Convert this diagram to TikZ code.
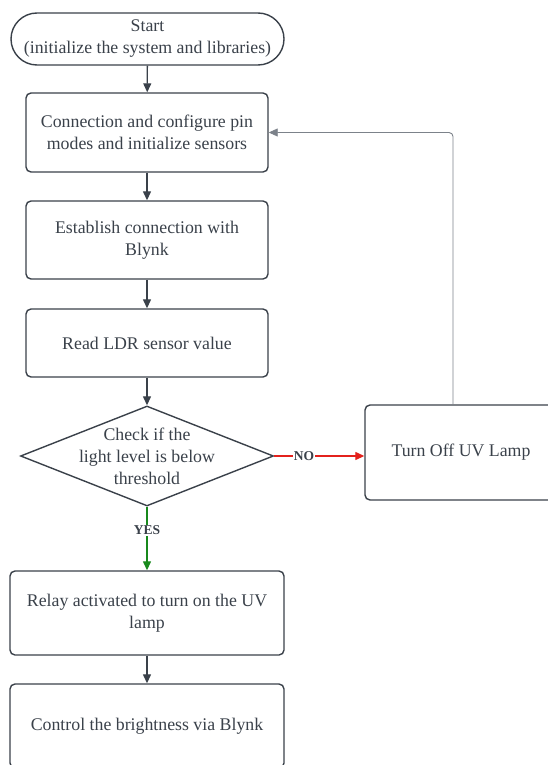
\documentclass[tikz,border=0pt]{standalone}
\usepackage{fontspec}
\setmainfont{Liberation Serif}
\usetikzlibrary{shapes.geometric,arrows.meta}
\definecolor{ink}{HTML}{3A414A}
\definecolor{loopgrey}{HTML}{7C828A}
\definecolor{noline}{HTML}{E3211C}
\definecolor{yesline}{HTML}{18891C}
\tikzset{
  every node/.style={text=ink,font=\fontsize{17.8}{22}\selectfont},
  procbox/.style={draw=ink,line width=1.4pt,rounded corners=5pt,align=center,minimum width=242pt},
  widebox/.style={procbox,minimum width=274pt},
  flow/.style={draw=ink,line width=1.3pt,-{Triangle[length=9pt,width=8pt]}},
  answer/.style={fill=white,inner sep=1pt,font=\bfseries\fontsize{13.5}{14}\selectfont}
}
\begin{document}
\begin{tikzpicture}[x=1pt,y=-1pt]
\useasboundingbox (0,0) rectangle (547,765);
\node[draw=ink,line width=1.4pt,rounded corners=26pt,align=center,minimum width=273pt,minimum height=52pt] (start) at (147.5,39) {Start\\(initialize the system and libraries)};
\node[procbox,minimum height=79pt] (pins) at (147,132.5) {Connection and configure pin\\modes and initialize sensors};
\node[procbox,minimum height=78pt] (blynk) at (147,240) {Establish connection with\\Blynk};
\node[procbox,minimum height=68pt] (ldr) at (147,343) {Read LDR sensor value};
\node[diamond,draw=ink,line width=1.4pt,minimum width=253pt,minimum height=100pt,inner sep=0pt,
  label={[align=center]center:{Check if the\\light level is below\\threshold}}] (check) at (147,456) {};
\node[procbox,minimum width=192pt,minimum height=95pt] (off) at (461,452.5) {Turn Off UV Lamp};
\node[widebox,minimum height=84pt] (relay) at (147,613) {Relay activated to turn on the UV\\lamp};
\node[widebox,minimum height=84pt] (bright) at (147,726) {Control the brightness via Blynk};
\draw[flow] (start) -- (pins);
\draw[flow] (pins) -- (blynk);
\draw[flow] (blynk) -- (ldr);
\draw[flow] (ldr) -- (check);
\draw[flow,draw=noline,fill=noline] (check.east) -- node[answer,pos=0.33]{NO} (check.east -| off.west);
\draw[flow,draw=yesline,fill=yesline] (check.south) -- node[answer,pos=0.37]{YES} (relay.north);
\draw[flow] (relay) -- (bright);
\draw[flow,draw=loopgrey,line width=0.9pt,rounded corners=4pt] (off.north -| 453,0) -- (453,132.5) -- (pins.east);
\end{tikzpicture}
\end{document}
